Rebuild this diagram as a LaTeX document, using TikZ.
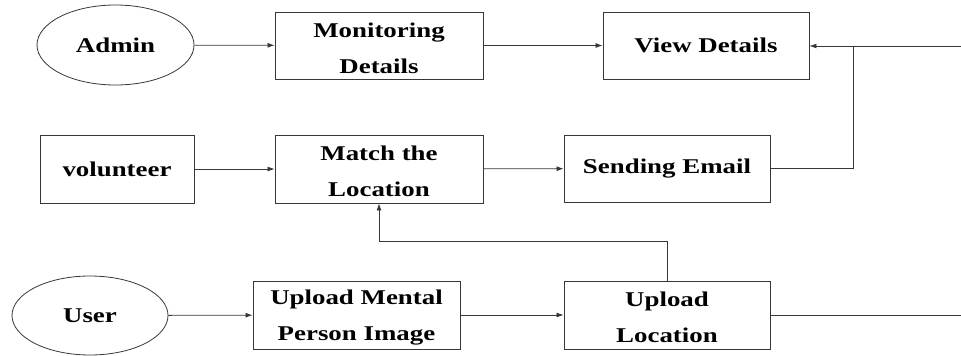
\documentclass[tikz,border=0pt]{standalone}
\usepackage{fontspec}
\setmainfont{Liberation Serif}[FakeStretch=1.28]
\usepackage{tikz}
\usetikzlibrary{shapes.geometric, arrows.meta, positioning}
\definecolor{linegray}{RGB}{55, 55, 55}

\begin{document}
\begin{tikzpicture}[
    x=1pt, y=-1pt,
    box/.style={rectangle, draw=linegray, line width=0.9pt, inner sep=0pt,
                align=center, font=\bfseries\fontsize{21}{36}\selectfont},
    actor/.style={ellipse, draw=linegray, line width=0.8pt, inner sep=0pt,
                  font=\bfseries\fontsize{21}{36}\selectfont},
    arrow/.style={-{Latex[length=7pt, width=5pt]}, line width=0.8pt, linegray},
    line/.style={line width=0.8pt, linegray}
]
\useasboundingbox (0,0) rectangle (961,356);

% Admin row
\node[actor, minimum width=157, minimum height=80] (admin) at (115.5,45) {Admin};
\node[box, minimum width=208, minimum height=67] (monitor) at (379,45.5) {\rule{0pt}{20pt}Monitoring\\Details};
\node[box, minimum width=206, minimum height=67] (view) at (706,45.5) {View Details};

% Volunteer row
\node[box, minimum width=154, minimum height=68] (volunteer) at (117,169) {volunteer};
\node[box, minimum width=208, minimum height=68] (match) at (379,169) {\rule{0pt}{20pt}Match the\\Location};
\node[box, minimum width=206, minimum height=67] (email) at (667,168.5) {Sending Email};

% User row
\node[actor, minimum width=156, minimum height=79] (user) at (90,315.5) {User};
\node[box, minimum width=207, minimum height=68] (upmental) at (356.5,315) {\rule{0pt}{20pt}Upload Mental\\Person Image};
\node[box, minimum width=206, minimum height=68] (uploc) at (667,315) {\rule{0pt}{20pt}Upload\\Location};

% Loose ends at the right border
\coordinate (viewin) at (961,46);
\coordinate (tap) at (853,46);
\coordinate (locout) at (961,315);

% Arrows
\draw[arrow] (admin) -- (monitor);
\draw[arrow] (monitor) -- (view);
\draw[arrow] (viewin) -- (view.east |- viewin);
\draw[line] (email.east) -| (tap);
\draw[arrow] (volunteer) -- (match);
\draw[arrow] (match) -- (email);
\draw[arrow] (user) -- (upmental);
\draw[arrow] (upmental) -- (uploc);
\draw[line] (uploc.east) -- (locout);

% Back to matching
\draw[arrow] (uploc.north) -- ++(0,-39) -| (match.south);

\end{tikzpicture}
\end{document}
